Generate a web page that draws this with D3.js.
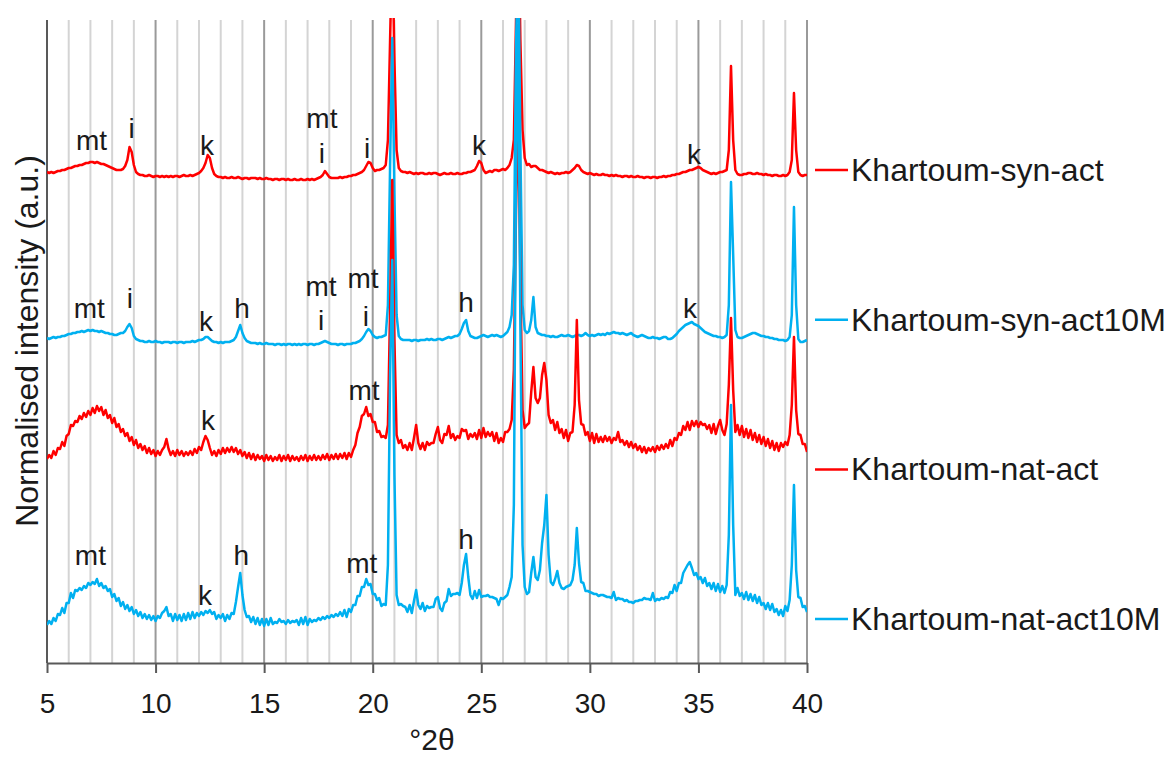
<!DOCTYPE html>
<html>
<head>
<meta charset="utf-8">
<script src="https://cdn.jsdelivr.net/npm/d3@7"></script>
<style>
  body { margin: 0; background: #fff; }
  text { font-family: Arial, "Liberation Sans", sans-serif; fill: #1a1a1a; }
</style>
</head>
<body>
<div id="chart"></div>
<script>
// scan grid: 5.0 to 40.0 °2θ, 0.1° step
let twoTheta = d3.range(0, 351).map(function(i){ return +(5 + i * 0.1).toFixed(1); });

let seriesNames = ["Khartoum-syn-act", "Khartoum-syn-act10M", "Khartoum-nat-act", "Khartoum-nat-act10M"];
let seriesColors = ["#ff0000", "#00b0f0", "#ff0000", "#00b0f0"];
// vertical stacking offset of each pattern (a.u.)
let offsets = [483, 318, 203, 38];

// intensities (a.u.), rows start at 5.0, 5.6, 6.6, ... 39.6
let synAct = [
  8,7,8,7,8,9,
  9,10,10,11,12,12,13,14,14,15,
  15,16,17,17,18,18,17,18,17,16,
  16,15,14,13,12,11,10,10,10,11,
  14,20,33,28,15,8,6,5,5,4,
  4,5,4,3,4,4,3,4,3,4,
  3,4,3,4,4,3,4,5,4,4,
  5,4,5,6,7,9,12,17,25,22,
  12,6,4,3,3,2,3,2,2,3,
  2,2,3,2,1,2,2,1,2,2,
  2,1,2,1,1,2,1,1,0,1,
  1,0,1,1,0,1,0,0,1,0,
  0,1,0,0,1,0,1,0,1,2,
  3,5,9,6,3,2,2,2,2,3,
  2,3,3,4,4,5,5,6,7,8,
  10,14,18,17,12,9,10,10,11,12,
  15,40,140,240,120,30,12,9,8,8,
  7,8,7,6,7,6,7,7,6,6,
  7,6,7,7,6,5,6,7,6,6,
  7,6,6,7,6,6,7,7,8,8,
  9,10,14,19,17,10,7,8,9,8,
  10,10,9,10,11,10,12,15,22,40,
  160,280,140,50,22,15,16,13,14,14,
  12,10,10,9,8,7,8,7,6,7,
  6,7,7,8,7,8,10,12,15,14,
  10,8,7,6,7,6,5,6,5,5,
  6,5,5,4,5,4,5,4,4,3,
  4,4,3,4,3,3,4,3,3,2,
  3,3,2,3,3,2,3,3,4,3,
  4,4,5,5,6,6,7,8,8,9,
  10,10,11,12,13,12,10,9,8,7,
  6,7,6,7,8,8,9,10,30,114,
  40,10,6,5,5,6,6,7,7,6,
  6,7,6,6,5,6,5,5,4,5,
  5,4,4,5,4,5,8,20,87,30,
  8,5,4,5,5
];

let synAct10M = [
  7,6,7,8,7,8,
  8,9,9,10,11,11,12,12,13,13,
  14,13,14,15,14,15,14,14,13,14,
  13,12,12,11,11,10,10,11,12,12,
  14,18,21,17,9,6,5,4,4,3,
  3,4,3,3,4,3,3,2,3,3,
  3,2,3,3,2,3,3,2,3,3,
  3,4,3,4,5,5,6,8,8,6,
  4,3,3,2,3,2,3,3,3,4,
  5,8,14,20,12,7,4,3,2,2,
  2,1,2,1,1,2,1,1,1,0,
  1,1,0,1,0,1,1,0,1,0,
  1,0,1,1,0,1,1,0,1,1,
  2,3,4,3,2,1,1,1,0,1,
  1,0,1,1,1,2,2,3,4,6,
  9,13,16,14,10,8,7,8,8,9,
  10,40,180,307,150,30,9,6,5,5,
  5,5,4,5,5,4,5,5,5,6,
  5,6,5,5,6,6,5,6,7,8,
  7,8,9,9,11,16,22,25,14,9,
  8,7,7,8,9,10,9,8,9,10,
  9,10,9,8,9,11,13,18,30,80,
  300,400,200,40,15,12,14,25,48,18,
  12,11,10,10,9,9,8,9,8,8,
  9,10,9,9,10,9,8,9,10,10,
  9,10,12,10,9,10,9,10,11,10,
  11,10,12,11,12,13,12,12,11,12,
  11,10,11,12,10,9,8,9,10,9,
  8,7,7,8,7,7,6,7,8,8,
  6,6,7,9,11,14,16,18,20,21,
  22,23,21,20,19,17,15,13,12,11,
  10,9,9,8,8,7,8,10,40,163,
  90,15,8,7,7,8,9,10,11,12,
  12,11,10,9,9,8,8,7,7,6,
  6,5,5,5,4,5,8,30,138,40,
  6,3,3,4,5
];

let natAct = [
  1,5,2,9,5,12,
  11,18,14,24,26,35,34,39,38,44,
  41,47,43,49,45,52,47,54,49,53,
  45,50,42,45,37,42,33,36,28,31,
  24,27,19,23,15,20,12,16,10,14,
  7,12,6,10,4,9,5,10,13,21,
  11,5,9,4,10,5,9,4,8,5,
  9,5,11,7,13,10,18,24,20,12,
  5,9,4,10,6,12,7,12,8,13,
  8,12,6,10,4,8,2,7,1,6,
  0,5,1,4,-1,5,0,4,-1,3,
  0,5,-1,4,0,5,-1,4,0,3,
  -1,4,0,5,-1,4,0,5,0,4,
  0,5,1,6,0,5,1,6,1,6,
  2,7,1,7,3,10,15,27,33,44,
  46,53,44,46,38,38,28,29,23,24,
  22,35,150,280,120,25,17,20,12,15,
  10,17,10,22,35,17,11,17,10,18,
  15,17,17,26,33,20,17,26,25,34,
  22,26,20,24,22,31,29,30,21,26,
  23,27,21,30,22,32,23,28,24,28,
  19,27,17,22,18,28,28,31,40,90,
  250,350,180,50,32,35,37,68,93,62,
  57,62,85,97,80,45,37,40,30,38,
  27,31,22,30,19,27,28,55,140,60,
  36,35,25,28,19,27,17,26,18,23,
  18,24,19,23,17,22,20,28,18,20,
  15,19,13,18,12,16,10,14,8,13,
  7,12,9,13,8,14,10,15,11,16,
  12,20,14,22,20,27,25,34,30,38,
  30,39,34,39,33,38,35,36,31,35,
  27,36,26,34,40,30,25,36,75,142,
  70,28,35,25,34,23,31,22,30,20,
  27,18,25,16,23,14,21,12,19,10,
  17,9,17,13,18,15,25,55,123,50,
  26,25,16,16,8
];

let natAct10M = [
  0,4,1,7,4,11,
  10,17,12,22,22,32,27,35,34,37,
  35,39,37,42,40,43,41,46,39,42,
  37,39,34,36,28,31,24,27,19,23,
  16,20,14,18,11,15,9,13,7,11,
  6,10,5,9,4,9,7,12,14,18,
  9,11,4,11,5,10,4,11,5,12,
  6,13,7,12,9,13,10,14,12,15,
  11,13,6,10,7,11,4,10,6,12,
  11,23,38,52,30,15,8,9,3,8,
  1,7,0,6,-1,6,0,7,1,3,
  2,6,3,4,1,5,2,4,3,5,
  0,7,1,8,0,6,3,5,4,7,
  5,8,6,9,7,10,8,11,9,13,
  9,15,8,16,13,20,20,29,29,38,
  38,46,40,41,31,31,25,27,19,21,
  20,60,250,365,150,30,20,21,19,18,
  13,20,12,24,35,20,16,22,14,19,
  17,18,18,26,28,17,14,22,24,36,
  29,31,31,32,30,42,60,71,48,30,
  26,34,27,35,28,29,29,30,28,28,
  27,26,20,27,26,28,30,38,48,120,
  450,600,300,80,38,31,33,52,68,48,
  45,55,82,100,130,70,43,40,46,54,
  42,37,36,38,39,40,45,60,97,62,
  43,42,34,34,33,32,31,31,29,30,
  30,29,28,28,27,33,25,27,26,26,
  24,25,23,23,22,24,24,25,25,27,
  26,26,25,32,24,26,25,27,26,28,
  27,33,32,40,34,42,42,52,56,60,
  63,57,50,52,46,48,42,47,39,42,
  36,42,34,41,33,39,32,40,90,220,
  100,30,37,29,32,26,33,25,31,24,
  30,22,28,20,22,16,22,15,21,13,
  16,10,15,9,19,14,25,60,140,55,
  28,27,18,19,13
];

let allSeries = [synAct, synAct10M, natAct, natAct10M];

// phase labels: [text, °2θ, a.u.]
let peakLabels = [
  ["mt", 7.05, 523], ["i", 8.9, 535], ["k", 12.37, 518], ["mt", 17.66, 545], ["i", 17.66, 510],
  ["i", 19.74, 515], ["k", 24.9, 518], ["k", 34.8, 509],
  ["mt", 6.95, 355], ["i", 8.82, 365], ["k", 12.32, 342], ["h", 13.98, 355], ["mt", 17.62, 377],
  ["i", 17.62, 343], ["mt", 19.55, 385], ["i", 19.69, 347], ["h", 24.3, 361], ["k", 34.61, 355],
  ["k", 12.41, 243], ["mt", 19.6, 273],
  ["mt", 7.0, 108], ["k", 12.28, 68], ["h", 13.95, 108], ["mt", 19.5, 100], ["h", 24.3, 124]
];

let W = 1174, H = 757;
let plotLeft = 47, plotRight = 807, plotTop = 18, plotBottom = 663;

let svg = d3.select("#chart").append("svg").attr("width", W).attr("height", H);

let x = d3.scaleLinear().domain([5, 40]).range([plotLeft, plotRight]);
let y = d3.scaleLinear().domain([0, 645]).range([plotBottom, plotTop]);

// vertical gridlines every degree, darker every 5
svg.append("g").selectAll("line")
  .data(d3.range(6, 41))
  .enter().append("line")
    .attr("x1", function(d){ return x(d); })
    .attr("x2", function(d){ return x(d); })
    .attr("y1", plotTop + 2)
    .attr("y2", plotBottom)
    .attr("stroke", function(d){ return d % 5 === 0 ? "#9a9a9a" : "#d4d4d4"; })
    .attr("stroke-width", 2);

// left axis line
svg.append("line")
  .attr("x1", plotLeft).attr("x2", plotLeft)
  .attr("y1", plotTop + 2).attr("y2", plotBottom)
  .attr("stroke", "#595959").attr("stroke-width", 2);

let xAxis = svg.append("g")
  .attr("transform", "translate(0," + plotBottom + ")")
  .call(d3.axisBottom(x).tickValues(d3.range(5, 41, 5)).tickSize(10).tickSizeOuter(0).tickPadding(20));
xAxis.select(".domain").attr("stroke", "#595959").attr("stroke-width", 2);
xAxis.selectAll(".tick line").attr("stroke", "#595959").attr("stroke-width", 2);
xAxis.selectAll(".tick text").attr("font-size", 28).attr("fill", "#1a1a1a")
  .style("font-family", "Arial, 'Liberation Sans', sans-serif");

svg.append("defs").append("clipPath").attr("id", "plotClip")
  .append("rect").attr("x", plotLeft).attr("y", plotTop).attr("width", plotRight - plotLeft).attr("height", plotBottom - plotTop);

let plot = svg.append("g").attr("clip-path", "url(#plotClip)");

allSeries.forEach(function(series, s) {
  let line = d3.line()
    .x(function(d, i){ return x(twoTheta[i]); })
    .y(function(d){ return y(d + offsets[s]); });

  plot.append("path")
    .attr("fill", "none")
    .attr("stroke", seriesColors[s])
    .attr("stroke-width", 2.5)
    .attr("stroke-linejoin", "round")
    .attr("d", line(series));
});

svg.append("g").selectAll("text")
  .data(peakLabels)
  .enter().append("text")
    .attr("x", function(d){ return x(d[1]); })
    .attr("y", function(d){ return y(d[2]); })
    .attr("text-anchor", "middle")
    .attr("dominant-baseline", "central")
    .attr("font-size", 28)
    .text(function(d){ return d[0]; });

// legend on the right
let legend = svg.append("g");
seriesNames.forEach(function(name, s) {
  let ly = 170 + s * 149.7;
  legend.append("line")
    .attr("x1", 815).attr("x2", 848)
    .attr("y1", ly).attr("y2", ly)
    .attr("stroke", seriesColors[s]).attr("stroke-width", 2.5);
  legend.append("text")
    .attr("x", 851).attr("y", ly + 11)
    .attr("font-size", 32)
    .text(name);
});

svg.append("text")
  .attr("x", (plotLeft + plotRight) / 2 + 5).attr("y", 750)
  .attr("text-anchor", "middle")
  .attr("font-size", 30)
  .text("°2θ");

svg.append("text")
  .attr("transform", "translate(38,341) rotate(-90)")
  .attr("text-anchor", "middle")
  .attr("font-size", 32)
  .text("Normalised intensity (a.u.)");
</script>
</body>
</html>
